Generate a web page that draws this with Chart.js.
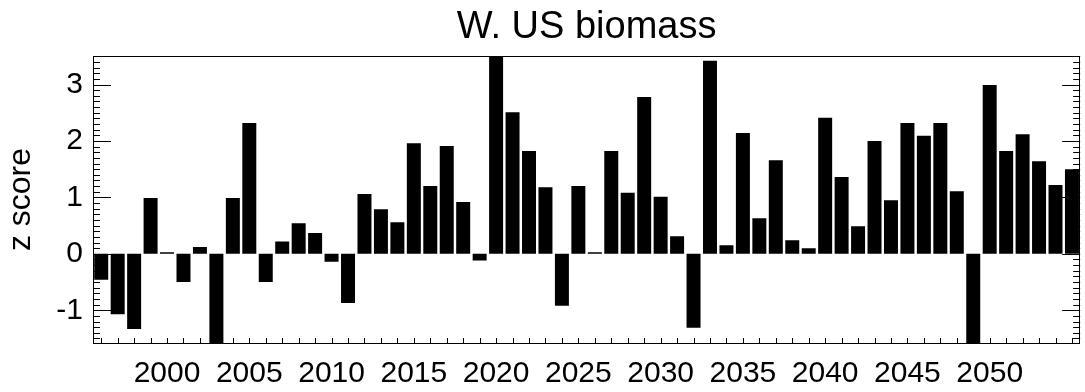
<!DOCTYPE html>
<html>
<head>
<meta charset="utf-8">
<title>W. US biomass</title>
<script src="https://cdn.jsdelivr.net/npm/chart.js@4"></script>
<style>
  html, body { margin: 0; padding: 0; background: #fff; }
  #wrap { width: 1085px; height: 392px; }
</style>
</head>
<body>
<div id="wrap"><canvas id="chart" width="1085" height="392"></canvas></div>
<script>
// Yearly categories
const years = [
  '1996','1997','1998','1999','2000','2001','2002','2003','2004','2005',
  '2006','2007','2008','2009','2010','2011','2012','2013','2014','2015',
  '2016','2017','2018','2019','2020','2021','2022','2023','2024','2025',
  '2026','2027','2028','2029','2030','2031','2032','2033','2034','2035',
  '2036','2037','2038','2039','2040','2041','2042','2043','2044','2045',
  '2046','2047','2048','2049','2050','2051','2052','2053','2054','2055'
];

// Biomass anomaly (z score) per year
const zScores = [
  -0.46, -1.07, -1.33, 0.99, 0.03, -0.50, 0.12, -1.70, 0.99, 2.32,
  -0.50, 0.22, 0.54, 0.37, -0.14, -0.87, 1.06, 0.79, 0.56, 1.96,
  1.20, 1.91, 0.92, -0.12, 3.60, 2.51, 1.82, 1.18, -0.92, 1.20,
  0.03, 1.82, 1.08, 2.78, 1.01, 0.31, -1.31, 3.42, 0.15, 2.14,
  0.63, 1.66, 0.24, 0.10, 2.41, 1.36, 0.49, 2.00, 0.95, 2.32,
  2.09, 2.32, 1.11, -1.70, 2.99, 1.82, 2.12, 1.64, 1.22, 1.50
];

// Labelled years on the x axis and labelled values on the y axis
const xTickLabels = ['2000','2005','2010','2015','2020','2025','2030','2035','2040','2045','2050'];
const yTickValues = [-1, 0, 1, 2, 3];

const FONT = "'Liberation Sans', Arial, Helvetica, sans-serif";
Chart.defaults.font.family = FONT;
Chart.defaults.color = '#000';

// Box frame plus inward tick marks (yearly on the bottom, 0.1 minor / 1.0 major on both sides)
const frameTicks = {
  id: 'frameTicks',
  afterDraw(chart) {
    const { ctx, chartArea: a, scales: { x, y } } = chart;
    ctx.save();
    ctx.strokeStyle = '#000';
    ctx.lineWidth = 1;
    ctx.beginPath();
    for (let i = 0; i < years.length; i++) {
      const px = Math.round(x.getPixelForValue(i)) + 0.5;
      ctx.moveTo(px, a.bottom);
      ctx.lineTo(px, a.bottom - 5);
    }
    for (let k = -15; k <= 35; k++) {
      const py = Math.round(y.getPixelForValue(k / 10)) + 0.5;
      const len = k % 10 === 0 ? 18 : 7;
      ctx.moveTo(a.left, py);
      ctx.lineTo(a.left + len, py);
      ctx.moveTo(a.right, py);
      ctx.lineTo(a.right - len, py);
    }
    ctx.stroke();
    ctx.strokeRect(Math.round(a.left) + 0.5, Math.round(a.top) + 0.5,
                   Math.round(a.right - a.left) - 1, Math.round(a.bottom - a.top));
    ctx.restore();
  }
};

new Chart(document.getElementById('chart'), {
  type: 'bar',
  data: {
    labels: years,
    datasets: [{
      data: zScores,
      backgroundColor: '#000',
      borderWidth: 0,
      barPercentage: 0.85,
      categoryPercentage: 1.0
    }]
  },
  options: {
    responsive: false,
    animation: false,
    layout: { padding: { left: 0, right: 1, top: 0, bottom: 0 } },
    plugins: {
      legend: { display: false },
      tooltip: { enabled: false }
    },
    scales: {
      // Top axis only carries the plot title, centred over the plot box
      top: {
        type: 'category',
        position: 'top',
        offset: true,
        grid: { display: false, drawTicks: false },
        border: { display: false },
        ticks: { display: false },
        title: {
          display: true,
          text: 'W. US biomass',
          color: '#000',
          font: { size: 38, weight: 'normal', family: FONT },
          padding: { top: 5, bottom: 5 }
        },
        afterFit(scale) { scale.height = 56; }
      },
      x: {
        type: 'category',
        offset: true,
        grid: { display: false, drawTicks: false },
        border: { display: false },
        ticks: {
          autoSkip: false,
          maxRotation: 0,
          minRotation: 0,
          padding: 13,
          font: { size: 30 },
          callback: function (val, idx) {
            const lab = years[idx];
            return xTickLabels.includes(lab) ? lab : '';
          }
        },
        afterFit(scale) { scale.height = 49; }
      },
      y: {
        type: 'linear',
        min: -1.58,
        max: 3.505,
        grid: { display: false, drawTicks: false },
        border: { display: false },
        afterBuildTicks(scale) {
          scale.ticks = yTickValues.map(v => ({ value: v }));
        },
        ticks: {
          padding: 10,
          font: { size: 30 },
          callback: v => String(v)
        },
        title: {
          display: true,
          text: 'z score',
          color: '#000',
          font: { size: 32, weight: 'normal', family: FONT },
          padding: { top: 2, bottom: 0 }
        },
        afterFit(scale) { scale.width = 93; }
      }
    }
  },
  plugins: [frameTicks]
});
</script>
</body>
</html>
